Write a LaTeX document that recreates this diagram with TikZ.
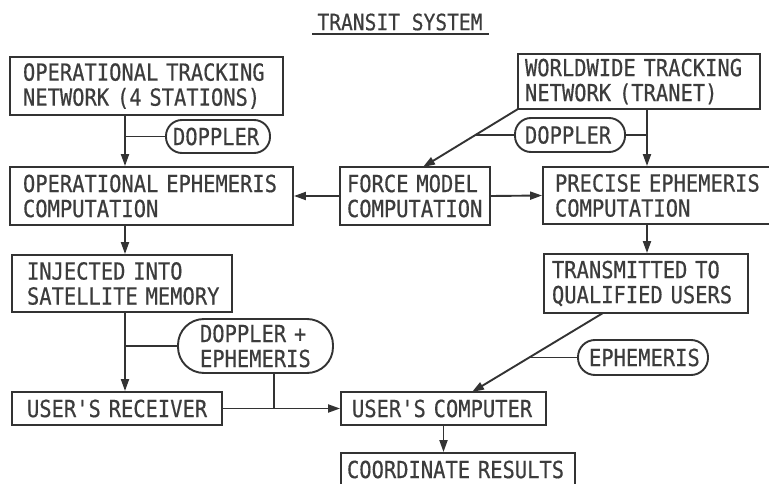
\documentclass[tikz,border=0pt]{standalone}
\usepackage{fontspec}
\newfontfamily\diafont[FakeStretch=0.87,FakeBold=0.5]{DejaVu Sans Mono}
\newcommand\nohyph{\hyphenpenalty=10000\relax\exhyphenpenalty=10000\relax}
\usetikzlibrary{arrows.meta,calc}
\definecolor{ink}{HTML}{333333}
\definecolor{txt}{HTML}{3C3C3C}
\begin{document}
\begin{tikzpicture}[x=1pt,y=-1pt,
  every node/.style={font=\diafont\fontsize{23.5}{25}\selectfont\nohyph, text=txt},
  box/.style={draw=ink, line width=1.9pt, rectangle, inner ysep=0pt, align=left},
  pill/.style={draw=ink, line width=1.9pt, rectangle, rounded corners=16pt, inner ysep=0pt, align=left},
  conn/.style={draw=ink, line width=1.9pt},
  arr/.style={conn, -{Triangle[length=12pt,width=8pt]}}]
\useasboundingbox (0,0) rectangle (769,484);

\node (title) at (400,22) {\fontsize{22.5}{24}\selectfont TRANSIT~SYSTEM};
\coordinate (ulL) at (312,34);
\coordinate (ulR) at (489,34);
\draw[conn, line width=1.6pt] (ulL) -- (ulR);

% boxes
\node[box, text width=247pt, inner xsep=13pt, minimum height=58pt] (A) at (146.5,86) {OPERATIONAL~TRACKING\\NETWORK~(4~STATIONS)};
\node[box, text width=257pt, inner xsep=13pt, minimum height=58pt] (B) at (151.5,196) {OPERATIONAL~EPHEMERIS\\COMPUTATION};
\node[box, text width=136pt, inner xsep=7pt, minimum height=58pt] (F) at (415,196) {FORCE~MODEL\\COMPUTATION};
\node[box, text width=228pt, inner xsep=7pt, minimum height=55pt] (W) at (639,81.5) {WORLDWIDE~TRACKING\\NETWORK~(TRANET)};
\node[box, text width=208pt, inner xsep=12pt, minimum height=57pt] (P) at (659,195.5) {PRECISE~EPHEMERIS\\COMPUTATION};
\node[box, text width=188pt, inner xsep=8pt, minimum height=59pt] (T) at (646,283.5) {TRANSMITTED~TO\\QUALIFIED~USERS};
\node[box, text width=190pt, inner xsep=15pt, minimum height=57pt] (I) at (122,283.5) {INJECTED~INTO\\SATELLITE~MEMORY};
\node[box, text width=180pt, inner xsep=15pt, minimum height=33pt] (R) at (117,408.5) {USER'S~RECEIVER};
\node[box, text width=183pt, inner xsep=11pt, minimum height=33pt] (C) at (443.5,408.5) {USER'S~COMPUTER};
\node[box, text width=222pt, inner xsep=6pt, minimum height=33pt] (Res) at (458,469.5) {COORDINATE~RESULTS};

% pills
\node[pill, text width=90pt, inner xsep=7pt, minimum height=33pt] (D1) at (218,136.5) {DOPPLER};
\node[pill, text width=90pt, inner xsep=10pt, minimum height=34pt] (D2) at (570,135) {DOPPLER};
\node[pill, rounded corners=26pt, text width=111pt, inner xsep=22pt, minimum height=54pt] (DE) at (255.5,346) {DOPPLER~+\\EPHEMERIS};
\node[pill, rounded corners=17pt, text width=108pt, inner xsep=11pt, minimum height=35pt] (E) at (643,357.5) {EPHEMERIS};

% helper coordinates
\coordinate (xL) at (125,0);
\coordinate (xR) at (647,0);
\coordinate (Wd) at (518,109);
\coordinate (Ft) at (423,167);
\coordinate (jD2) at (475,135);
\coordinate (Tb) at (603,313);
\coordinate (Ct) at (472,392);
\coordinate (jE) at (530,357.5);
\coordinate (jDE) at (274,408.5);

% connectors left column
\draw[arr] (A.south -| xL) -- (B.north -| xL);
\draw[conn] (D1.west) -- (D1.west -| xL);
\draw[arr] (B.south -| xL) -- (I.north -| xL);
\draw[arr] (I.south -| xL) -- (R.north -| xL);
\draw[conn] (DE.west) -- (DE.west -| xL);

% middle
\draw[arr] (F.west) -- (B.east);
\draw[arr] (F.east) -- (P.west);

% right column
\draw[arr] (Wd) -- (Ft);
\draw[conn] (D2.west) -- (jD2);
\draw[arr] (W.south -| xR) -- (P.north -| xR);
\draw[conn] (D2.east) -- (D2.east -| xR);
\draw[arr] (P.south -| xR) -- (T.north -| xR);
\draw[arr] (Tb) -- (Ct);
\draw[conn] (E.west) -- (jE);

% bottom
\draw[arr] (R.east) -- (C.west);
\draw[conn] (DE.south -| jDE) -- (jDE);
\draw[arr] (C.south) -- (C.south |- Res.north);
\end{tikzpicture}
\end{document}
